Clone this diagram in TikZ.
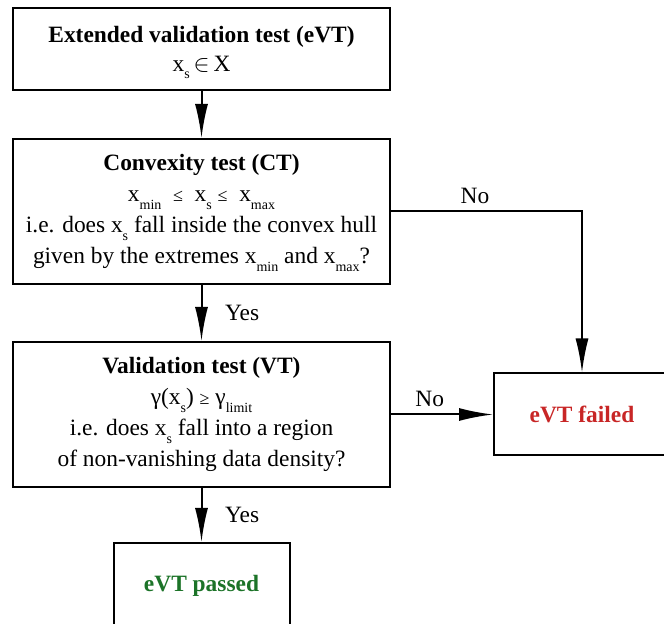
\documentclass[tikz,border=0pt]{standalone}
\usepackage{fontspec}
\setmainfont{Liberation Serif}
\usepackage{xcolor}
\usetikzlibrary{positioning}
\usetikzlibrary{arrows.meta}

\definecolor{failred}{RGB}{200,38,38}
\definecolor{passgreen}{RGB}{28,115,40}
% lowered index in running text (no extra depth)
\newcommand{\lowidx}[1]{\smash{\raisebox{-0.7ex}{\scriptsize #1}}}

\begin{document}
\begin{tikzpicture}[x=0.5pt, y=-0.5pt, ->, >={Latex[length=17pt,width=6.5pt]}, line width=1pt, node distance=23.5pt, font=\fontsize{11.7}{15.5}\selectfont]
			\tikzstyle{block}=[draw=black,rectangle,fill=none,minimum width=188.5pt,minimum height=72.5pt,inner sep=0pt,align=center]
			\tikzstyle{result}=[block,minimum width=88pt,minimum height=41pt]

			\useasboundingbox (0,0) rectangle (664,624);

			\node[block, minimum height=41pt] (eVT) at (201.5,49) {\textbf{Extended validation test (eVT)}\\[-1pt] x\lowidx{s}\,$\in$\,X};
			\node[block, below=23.5pt of eVT] (CT) {\textbf{Convexity test (CT)}\\ x\lowidx{min} \ {\small ≤} \ x\lowidx{s} {\small ≤} \ x\lowidx{max}\\ i.e. does x\lowidx{s} fall inside the convex hull\\ given by the extremes x\lowidx{min} and x\lowidx{max}?};
			\node[block, below=28pt of CT] (VT) {\textbf{Validation test (VT)}\\ γ(x\lowidx{s}) {\small ≥} γ\lowidx{limit}\\ i.e. does x\lowidx{s} fall into a region\\ of non-vanishing data density?};
			\node[result, right=51pt of VT] (failed) {\textcolor{failred}{\textbf{eVT failed}}};
			\node[result, minimum height=43pt, below=27pt of VT] (passed) {\textcolor{passgreen}{\textbf{eVT passed}}};

			\draw (eVT) -- (CT);
			\draw (CT) -- node[right=8pt, pos=0.5] {Yes} (VT);
			\draw (VT) -- node[right=8pt, pos=0.5] {Yes} (passed);
			\draw (CT.east) -| node[above, pos=0.22] {No} (failed.north);
			\draw (VT) -- node[above, pos=0.38] {No} (failed);
\end{tikzpicture}
\end{document}
